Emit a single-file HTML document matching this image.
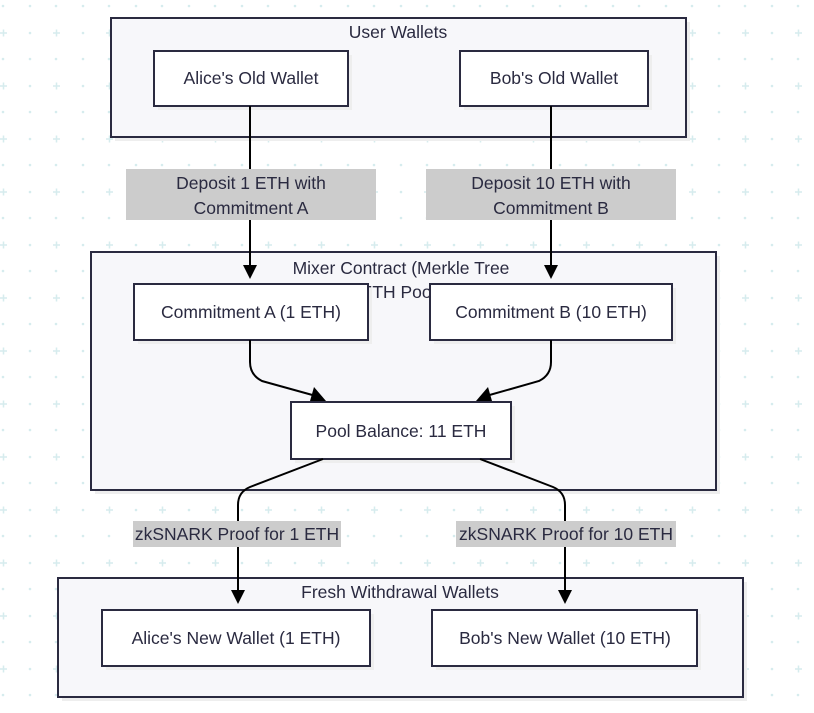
<!DOCTYPE html>
<html><head><meta charset="utf-8"><style>
html,body{margin:0;padding:0;background:#fff;}
svg{display:block;}
text{font-family:"Liberation Sans",sans-serif;font-size:17.5px;fill:#2a2a40;}
</style></head><body>
<svg width="814" height="713" viewBox="0 0 814 713" xmlns="http://www.w3.org/2000/svg">
<defs>
<pattern id="g" x="0" y="0" width="53" height="53" patternUnits="userSpaceOnUse">
<circle cx="3" cy="6" r="1.3" fill="#d6ecee"/>
<circle cx="30" cy="6" r="1.3" fill="#d6ecee"/>
<circle cx="30" cy="33" r="1.3" fill="#d6ecee"/>
<path d="M0 33h7M3.5 29.5v7" stroke="#d6ecee" stroke-width="1.5"/>
</pattern>
</defs>
<rect width="814" height="713" fill="url(#g)"/>
<g stroke="#2a2a40" stroke-width="2">
<rect x="115" y="22" width="575" height="119" fill="#eee" stroke="none"/>
<rect x="111" y="18" width="575" height="119" fill="#f7f7fa"/>
<rect x="95" y="256" width="625" height="238" fill="#eee" stroke="none"/>
<rect x="91" y="252" width="625" height="238" fill="#f7f7fa"/>
<rect x="62" y="582" width="685" height="119" fill="#eee" stroke="none"/>
<rect x="58" y="578" width="685" height="119" fill="#f7f7fa"/>
</g>
<text x="398" y="38" text-anchor="middle">User Wallets</text>
<text x="401" y="274" text-anchor="middle">Mixer Contract (Merkle Tree</text>
<text x="401" y="298" text-anchor="middle">ETH Pool)</text>
<text x="400" y="598" text-anchor="middle">Fresh Withdrawal Wallets</text>
<g stroke="#2a2a40" stroke-width="2">
<rect x="158" y="55" width="194" height="55" fill="#eee" stroke="none"/>
<rect x="464" y="55" width="188" height="55" fill="#eee" stroke="none"/>
<rect x="138" y="288" width="234" height="56" fill="#eee" stroke="none"/>
<rect x="434" y="288" width="242" height="56" fill="#eee" stroke="none"/>
<rect x="295" y="406" width="220" height="57" fill="#eee" stroke="none"/>
<rect x="106" y="614" width="268" height="56" fill="#eee" stroke="none"/>
<rect x="436" y="614" width="265" height="56" fill="#eee" stroke="none"/>
</g>
<g stroke="#2a2a40" stroke-width="2" fill="#fff">
<rect x="154" y="51" width="194" height="55"/>
<rect x="460" y="51" width="188" height="55"/>
<rect x="134" y="284" width="234" height="56"/>
<rect x="430" y="284" width="242" height="56"/>
<rect x="291" y="402" width="220" height="57"/>
<rect x="102" y="610" width="268" height="56"/>
<rect x="432" y="610" width="265" height="56"/>
</g>
<text x="251" y="84" text-anchor="middle">Alice's Old Wallet</text>
<text x="554" y="84" text-anchor="middle">Bob's Old Wallet</text>
<text x="251" y="318" text-anchor="middle">Commitment A (1 ETH)</text>
<text x="551" y="318" text-anchor="middle">Commitment B (10 ETH)</text>
<text x="401" y="437" text-anchor="middle">Pool Balance: 11 ETH</text>
<text x="236" y="644" text-anchor="middle">Alice's New Wallet (1 ETH)</text>
<text x="565" y="644" text-anchor="middle">Bob's New Wallet (10 ETH)</text>
<g stroke="#000" stroke-width="2" fill="none">
<path d="M250 106V272"/>
<path d="M551 106V272"/>
<path d="M250 340V362Q250 375 262 381L316 396"/>
<path d="M551 340V362Q551 375 539 381L486 396"/>
<path d="M323 459L250 487Q238 492 238 505V598"/>
<path d="M480 459L553 487Q565 492 565 505V598"/>
</g>
<g fill="#000">
<path d="M243 265h14l-7 14z"/>
<path d="M544 265h14l-7 14z"/>
<path d="M314 387l12 14h-16z"/>
<path d="M488 387l-12 14h16z"/>
<path d="M231 590h14l-7 14z"/>
<path d="M558 590h14l-7 14z"/>
</g>
<rect x="126" y="169" width="250" height="51" fill="#cccccc"/>
<rect x="426" y="169" width="250" height="51" fill="#cccccc"/>
<rect x="133" y="521" width="208" height="26" fill="#cccccc"/>
<rect x="456" y="521" width="220" height="26" fill="#cccccc"/>
<text x="251" y="189" text-anchor="middle">Deposit 1 ETH with</text>
<text x="251" y="214" text-anchor="middle">Commitment A</text>
<text x="551" y="189" text-anchor="middle">Deposit 10 ETH with</text>
<text x="551" y="214" text-anchor="middle">Commitment B</text>
<text x="237" y="540" text-anchor="middle">zkSNARK Proof for 1 ETH</text>
<text x="566" y="540" text-anchor="middle">zkSNARK Proof for 10 ETH</text>
</svg>
</body></html>
